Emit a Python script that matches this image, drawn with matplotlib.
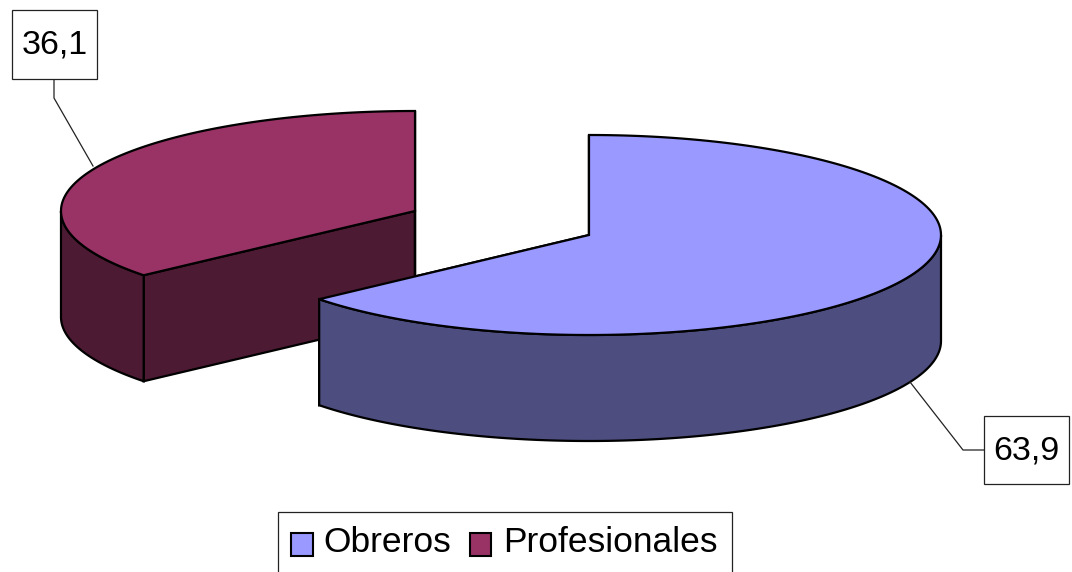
import matplotlib
matplotlib.use("Agg")
import matplotlib.pyplot as plt
import numpy as np
from matplotlib.patches import Polygon, Rectangle

categories = ["Obreros", "Profesionales"]
values = [63.9, 36.1]
labels = ["63,9", "36,1"]

top_colors = ["#9999FF", "#993366"]
side_colors = ["#4D4D80", "#4D1A33"]

plt.rcParams["font.family"] = ["Liberation Sans", "DejaVu Sans"]

fig = plt.figure(figsize=(10.72, 5.72), dpi=100)
ax = fig.add_axes([0, 0, 1, 1])
ax.set_xlim(0, 1072)
ax.set_ylim(572, 0)
ax.axis("off")


def ellipse_pts(cx, cy, rx, ry, a0, a1):
    # angles in degrees, clockwise from 12 o'clock
    t = np.radians(np.linspace(a0, a1, 200))
    return np.column_stack([cx + rx * np.sin(t), cy - ry * np.cos(t)])


def draw_slice(cx, cy, rx, ry, depth, a0, a1, top, side):
    rim = ellipse_pts(cx, cy, rx, ry, a0, a1)
    centre = np.array([[cx, cy]])
    down = np.array([0, depth])
    lw = 1.6

    # cut faces, back one first
    for a in (a0, a1):
        p = ellipse_pts(cx, cy, rx, ry, a, a)[0:1]
        face = np.vstack([centre, p, p + down, centre + down])
        ax.add_patch(Polygon(face, closed=True, fc=side, ec="black", lw=lw, zorder=2))

    # outer wall, only the part of the rim facing the viewer
    lo, hi = max(a0, 90), min(a1, 270)
    if hi > lo:
        front = ellipse_pts(cx, cy, rx, ry, lo, hi)
        wall = np.vstack([front, front[::-1] + down])
        ax.add_patch(Polygon(wall, closed=True, fc=side, ec="black", lw=lw, zorder=3))

    ax.add_patch(Polygon(np.vstack([centre, rim]), closed=True, fc=top, ec="black",
                         lw=lw, zorder=4))


def label_box(x, y, w, h, text):
    ax.add_patch(Rectangle((x, y), w, h, fc="white", ec="#222222", lw=0.9, zorder=6))
    ax.text(x + w / 2, y + h / 2 + 1, text, ha="center", va="center", fontsize=24.5,
            color="black", zorder=7)


angles = np.cumsum([0] + values) / sum(values) * 360

# Obreros starts at 12 o'clock and goes clockwise, Profesionales fills the rest
draw_slice(589, 235, 352, 100, 106, angles[0], angles[1], top_colors[0], side_colors[0])
draw_slice(415, 211, 354, 100, 106, angles[1], angles[2], top_colors[1], side_colors[1])

# leader lines
ax.plot([910, 963, 984], [382, 450, 450], color="#222222", lw=0.9, zorder=5)
ax.plot([54, 54, 93], [79, 98, 166], color="#222222", lw=0.9, zorder=5)

label_box(984, 416, 85, 68, labels[0])
label_box(12, 10, 85, 69, labels[1])

# legend, runs off the bottom of the picture
ax.add_patch(Rectangle((278, 512), 454, 70, fc="white", ec="#222222", lw=0.9, zorder=6))
ax.add_patch(Rectangle((291, 533), 22, 23, fc=top_colors[0], ec="black", lw=1.5, zorder=7))
ax.add_patch(Rectangle((470, 533), 21, 23, fc=top_colors[1], ec="black", lw=1.5, zorder=7))
ax.text(323, 543, categories[0], ha="left", va="center", fontsize=25.5, zorder=7)
ax.text(503, 543, categories[1], ha="left", va="center", fontsize=25.5, zorder=7)

fig.savefig("out.png", dpi=100, facecolor="white")
